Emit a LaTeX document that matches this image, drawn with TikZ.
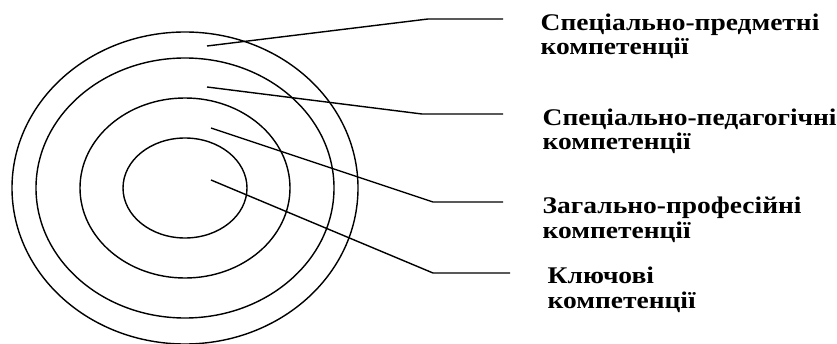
\documentclass[tikz,border=0pt]{standalone}
\usepackage{fontspec}
\setmainfont{Liberation Serif}[FakeStretch=1.15]

\begin{document}
\begin{tikzpicture}[x=0.02cm,y=-0.02cm,line width=0.8pt,
    lab/.style={anchor=base west,inner sep=0pt,align=left,
        font=\bfseries\fontsize{13.6}{14.2}\selectfont}]
    \useasboundingbox (0,0) rectangle (837,344);

    % rings (centre and half axes in px)
    \coordinate (O) at (185,188);
    \foreach \rx/\ry in {62/50,105/90,149/130,173/156}{
        \draw (O) ellipse [x radius=\rx*0.02cm,y radius=\ry*0.02cm];
    }

    % labels (base = baseline of the last line)
    \node[lab] (l1) at (540,55)  {Спеціально-предметні\\компетенції};
    \node[lab] (l2) at (542,150) {Спеціально-педагогічні\\компетенції};
    \node[lab] (l3) at (542,238) {Загально-професійні\\компетенції};
    \node[lab] (l4) at (547,308) {Ключові\\компетенції};

    % pointer lines: start inside ring, bend, end before label
    \coordinate (s1) at (207,46);  \coordinate (k1) at (428,19);  \coordinate (e1) at (503,19);
    \coordinate (s2) at (207,87);  \coordinate (k2) at (422,114); \coordinate (e2) at (503,114);
    \coordinate (s3) at (211,128); \coordinate (k3) at (433,202); \coordinate (e3) at (503,202);
    \coordinate (s4) at (211,180); \coordinate (k4) at (433,273); \coordinate (e4) at (510,273);

    \foreach \i in {1,...,4}{
        \draw (s\i) -- (k\i) -- (e\i);
    }
\end{tikzpicture}
\end{document}
